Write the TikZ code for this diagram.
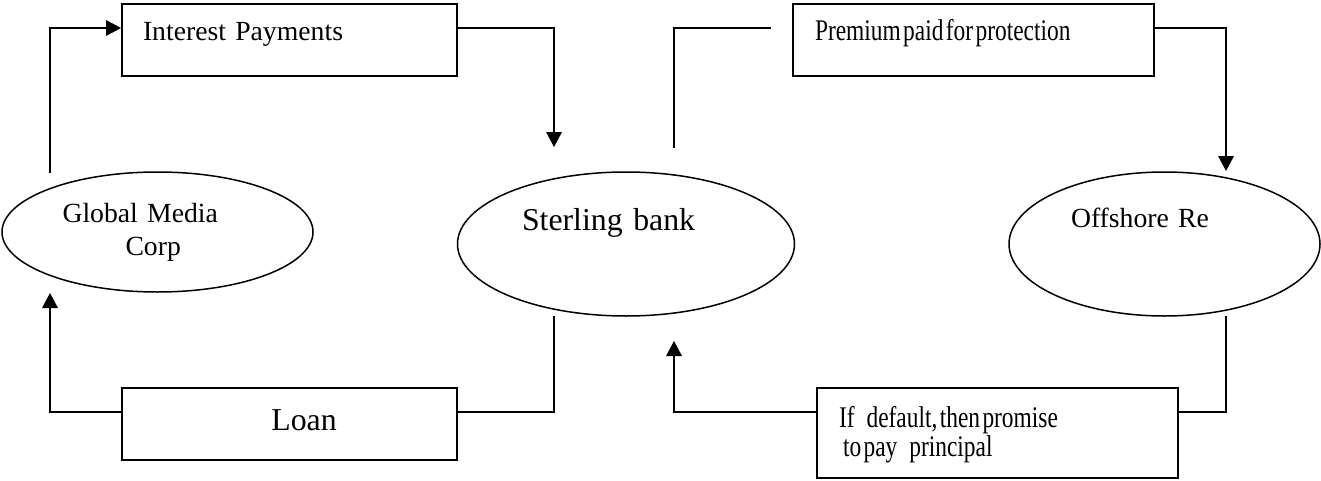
\documentclass[tikz,border=0pt]{standalone}
\usepackage{fontspec}
\setmainfont{Liberation Serif}
\newfontfamily\narrowfont{Liberation Serif}[FakeStretch=0.78]
\usetikzlibrary{arrows.meta,shapes.geometric}

\tikzset{
  party/.style={draw, ellipse, line width=0.75pt, inner sep=0pt, align=left},
  flowbox/.style={draw, rectangle, line width=1pt, inner ysep=0pt, inner xsep=11pt, align=left},
  flow/.style={line width=0.75pt, -{Triangle[length=7.5pt,width=7.8pt]}},
  link/.style={line width=0.75pt},
}
\newcommand{\smallfnt}{\fontsize{13.85pt}{16.5pt}\selectfont}
\newcommand{\bigfnt}{\fontsize{15.9pt}{19pt}\selectfont}
\newcommand{\narrowfnt}{\narrowfont\fontsize{15pt}{13pt}\selectfont}
\newcommand{\gap}{\hspace{1.2pt}}

\begin{document}
\begin{tikzpicture}[x=0.5pt,y=-0.5pt]
\useasboundingbox (0,0) rectangle (1321,481);

% the three parties
\node[party, minimum width=155.5pt, minimum height=60pt, text width=95pt,
      text height=10pt, text depth=20pt, font=\smallfnt] (gmc) at (157.5,232)
      {Global Media\\\hspace*{31.5pt}Corp};
\node[party, minimum width=168.5pt, minimum height=72pt, text width=104pt,
      text height=11pt, text depth=25pt, font=\bigfnt] (sterling) at (626,244)
      {Sterling bank};
\node[party, minimum width=155.5pt, minimum height=72pt, text width=93.5pt,
      text height=10pt, text depth=27pt, font=\smallfnt] (offshore) at (1164.5,244)
      {Offshore Re};

% the flows
\node[flowbox, inner xsep=10.5pt, text width=146.5pt, text height=18.5pt,
      text depth=17.5pt, font=\smallfnt] (interest) at (289.5,40) {Interest Payments};
\node[flowbox, text width=158.5pt, text height=18.5pt, text depth=17.5pt,
      font=\narrowfnt] (premium) at (973.5,40)
      {Premium\gap paid\gap for\gap protection};
\node[flowbox, inner xsep=10.5pt, text width=146.5pt, text height=21pt,
      text depth=15pt, align=center, font=\bigfnt] (loan) at (289.5,424)
      {\hspace*{14.5pt}Loan};
\node[flowbox, text width=158.5pt, text height=19.5pt, text depth=25.5pt,
      font=\narrowfnt] (default) at (997.5,433)
      {If\hspace{6pt}default,\gap then\gap promise\\\hspace*{2pt}to\gap pay\hspace{6pt}principal};

% loose ends
\coordinate (gmcout) at (50,173);
\coordinate (gmcin) at (50,293);
\coordinate (sbin) at (554,147);
\coordinate (sbout) at (674,148);
\coordinate (sbdown) at (554,316);
\coordinate (sbup) at (674,341);
\coordinate (offin) at (1226,171);
\coordinate (offout) at (1226,316);
\coordinate (premgap) at (771,28);

\draw[flow] (gmcout) |- ([yshift=6pt]interest.west);
\draw[flow] ([yshift=6pt]interest.east) -| (sbin);
\draw[link] (sbout) |- (premgap);
\draw[flow] ([yshift=6pt]premium.east) -| (offin);
\draw[link] (sbdown) |- ([yshift=6pt]loan.east);
\draw[flow] ([yshift=6pt]loan.west) -| (gmcin);
\draw[link] (offout) |- ([yshift=10.5pt]default.east);
\draw[flow] ([yshift=10.5pt]default.west) -| (sbup);
\end{tikzpicture}
\end{document}
